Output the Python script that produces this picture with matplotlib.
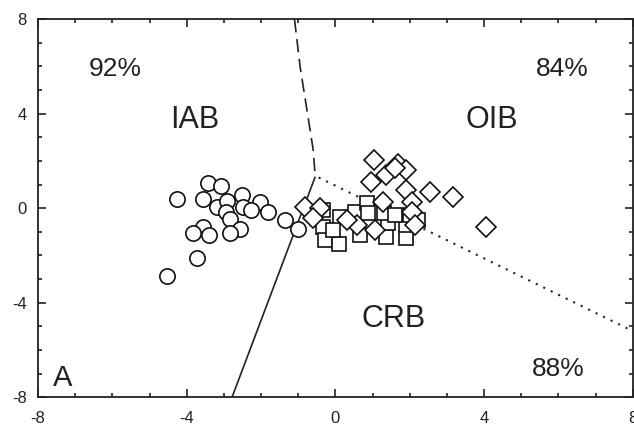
import matplotlib
matplotlib.use("Agg")
import matplotlib.pyplot as plt
from matplotlib.ticker import MultipleLocator

plt.rcParams['font.family'] = ['Liberation Sans', 'DejaVu Sans']
plt.rcParams['axes.unicode_minus'] = False

# Circles (IAB-like samples)
circ_x = [-4.26, -3.44, -3.07, -3.57, -3.18, -2.91, -2.51, -2.03, -1.81, -2.48,
          -2.26, -2.95, -2.84, -2.57, -2.84, -3.56, -3.40, -3.84, -3.71, -4.52,
          -1.36, -1.00]
circ_y = [0.41, 1.05, 0.94, 0.38, 0.06, 0.30, 0.55, 0.27, -0.16, 0.06,
          -0.08, -0.16, -0.44, -0.86, -1.07, -0.79, -1.14, -1.05, -2.10, -2.87,
          -0.51, -0.86]

# Diamonds (OIB-like samples)
diam_x = [1.03, 1.69, 1.91, 1.35, 0.95, 1.89, 2.54, 3.16, 1.28, 2.07,
          2.07, 0.57, 1.06, 2.13, 4.04, -0.82, -0.42, -0.60, 1.60, 0.30]
diam_y = [2.03, 1.86, 1.61, 1.40, 1.11, 0.79, 0.69, 0.48, 0.27, 0.27,
          -0.16, -0.72, -0.93, -0.72, -0.79, 0.04, 0.00, -0.40, 1.70, -0.50]

# Squares (CRB-like samples)
sq_x = [-0.33, 0.12, -0.33, -0.28, 0.10, 0.52, 0.84, 0.88, 0.66, 1.37,
        1.41, 1.89, 2.22, 1.91, -0.07, 1.30, 1.60, 2.00]
sq_y = [-0.06, -0.37, -0.79, -1.35, -1.52, -0.16, 0.21, -0.20, -1.14, -1.21,
        -0.63, -1.28, -0.51, -0.72, -0.93, -0.20, -0.30, -0.30]

# Discriminant boundaries
dash_x = [-1.1, -0.95, -0.75, -0.6, -0.55]
dash_y = [8.0, 6.0, 4.0, 2.5, 1.5]
solid_x = [-0.55, -2.78]
solid_y = [1.3, -8.0]
dot_x = [-0.45, 8.0]
dot_y = [1.3, -5.2]

pct_labels = ["92%", "84%", "88%"]
pct_x = [-5.93, 6.11, 6.0]
pct_y = [5.9, 5.9, -6.8]
field_labels = ["IAB", "OIB", "CRB"]
field_x = [-3.78, 4.2, 1.57]
field_y = [3.72, 3.72, -4.68]

ticks = [-8, -4, 0, 4, 8]

fig = plt.figure(figsize=(6.34, 4.36), dpi=100)
ax = fig.add_axes([0.06, 0.089, 0.938, 0.867])

ax.plot(dash_x, dash_y, color='#222222', lw=1.2, ls=(0, (8, 4)))
ax.plot(solid_x, solid_y, color='#222222', lw=1.2)
ax.plot(dot_x, dot_y, color='#222222', lw=1.5, ls=(0, (1, 3)))

mk = dict(ls='none', mfc='white', mec='#111111', mew=1.2)
ax.plot(circ_x, circ_y, marker='o', ms=11, **mk)
ax.plot(sq_x, sq_y, marker='s', ms=9.5, **mk)
ax.plot(diam_x, diam_y, marker='D', ms=10.5, **mk)

for t, x, y in zip(pct_labels, pct_x, pct_y):
    ax.text(x, y, t, ha='center', va='center', fontsize=19, color='#222222')
for t, x, y in zip(field_labels, field_x, field_y):
    ax.text(x, y, t, ha='center', va='center', fontsize=22, color='#222222')
ax.text(-7.35, -7.2, "A", ha='center', va='center', fontsize=21, color='#222222')

ax.set_xlim(-8, 8)
ax.set_ylim(-8, 8)
ax.set_xticks(ticks)
ax.set_yticks(ticks)
ax.xaxis.set_minor_locator(MultipleLocator(1))
ax.yaxis.set_minor_locator(MultipleLocator(1))
ax.tick_params(which='both', direction='in', top=True, right=True, color='#222222',
               labelsize=12, labelcolor='#222222')
ax.tick_params(which='major', length=6, width=1.2)
ax.tick_params(which='minor', length=3, width=1.2)
ax.tick_params(axis='x', pad=10)
ax.tick_params(axis='y', pad=8)
for s in ax.spines.values():
    s.set_linewidth(1.3)
    s.set_color('#222222')

fig.savefig("out.png", dpi=100)
